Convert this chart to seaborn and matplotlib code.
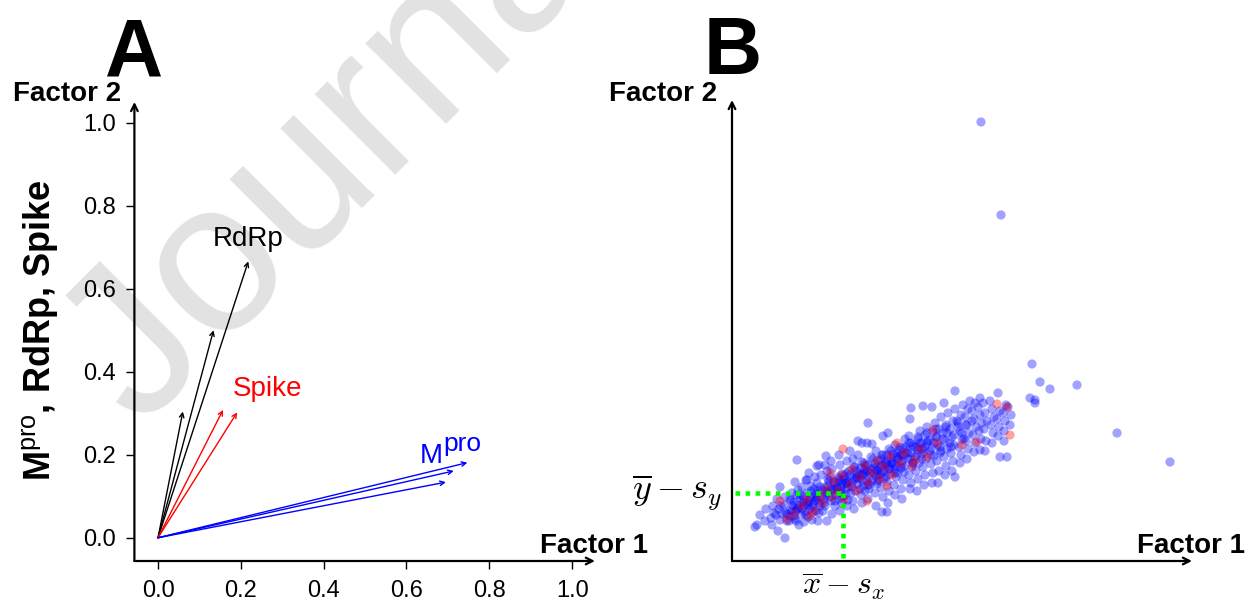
import matplotlib
matplotlib.use("Agg")
import matplotlib.pyplot as plt
import seaborn as sns
import pandas as pd

# --- panel A : loadings on Factor 1 / Factor 2 ---
rdrp_f1 = [0.060, 0.134, 0.218]
rdrp_f2 = [0.304, 0.500, 0.666]
spike_f1 = [0.157, 0.191]
spike_f2 = [0.308, 0.302]
mpro_f1 = [0.747, 0.714, 0.695]
mpro_f2 = [0.181, 0.161, 0.134]
tick_vals = [0.0, 0.2, 0.4, 0.6, 0.8, 1.0]
tick_labels = ["0.0", "0.2", "0.4", "0.6", "0.8", "1.0"]

# --- panel B : factor scores ---
blue_scores = [
    (0.23, 0.34), (0.25, 0.36), (0.28, 0.46), (0.33, 0.40), (0.34, 0.52),
    (0.39, 0.43), (0.40, 0.36), (0.41, 0.55), (0.42, 0.48),
    (0.44, 0.46), (0.45, 0.62), (0.46, 0.30), (0.47, 0.52),
    (0.48, 0.41), (0.48, 0.74), (0.49, 0.55), (0.50, 0.47),
    (0.53, 0.23), (0.52, 0.56), (0.54, 0.48), (0.55, 0.40), (0.53, 0.64),
    (0.58, 0.51), (0.57, 0.40), (0.59, 0.60), (0.58, 0.45), (0.60, 0.68),
    (0.63, 0.79), (0.62, 0.59), (0.64, 0.50), (0.63, 0.42), (0.65, 0.66), (0.61, 0.55),
    (0.66, 0.53), (0.67, 0.36), (0.68, 0.62), (0.66, 0.71), (0.65, 1.01), (0.69, 0.47),
    (0.71, 0.58), (0.70, 0.74), (0.72, 0.39), (0.73, 0.49), (0.71, 0.65), (0.74, 0.81), (0.72, 0.55),
    (0.75, 0.81), (0.76, 0.44), (0.77, 0.60), (0.75, 0.68), (0.78, 0.52), (0.79, 0.75), (0.77, 0.88),
    (0.80, 0.41), (0.81, 0.57), (0.80, 0.64), (0.82, 0.72), (0.81, 0.49), (0.83, 0.84),
    (0.85, 0.95), (0.86, 0.40), (0.87, 0.96), (0.84, 0.62), (0.86, 0.70), (0.88, 0.55),
    (0.85, 0.78), (0.87, 0.48), (0.89, 0.86),
    (0.93, 0.96), (0.95, 0.40), (0.92, 0.58), (0.94, 0.66), (0.93, 0.74), (0.96, 0.82),
    (0.91, 0.50), (0.95, 0.90), (0.94, 1.05),
    (1.00, 0.47), (0.99, 0.60), (1.01, 0.68), (1.02, 0.76), (0.98, 0.84), (1.00, 0.92),
    (1.03, 0.55), (1.01, 0.71), (0.99, 1.00),
    (1.08, 0.50), (1.07, 0.62), (1.09, 0.70), (1.06, 0.79), (1.10, 0.87), (1.08, 0.96),
    (1.07, 1.06), (1.10, 0.58), (1.09, 0.74),
    (1.15, 0.55), (1.14, 0.66), (1.16, 0.74), (1.13, 0.82), (1.17, 0.90), (1.15, 1.00),
    (1.16, 0.61), (1.14, 0.78), (1.18, 1.10),
    (1.22, 0.52), (1.21, 0.60), (1.23, 0.70), (1.20, 0.78), (1.24, 0.86), (1.22, 0.94),
    (1.21, 1.02), (1.26, 1.06), (1.25, 0.82),
    (1.30, 0.58), (1.29, 0.66), (1.31, 0.75), (1.28, 0.83), (1.32, 0.91), (1.30, 0.99),
    (1.26, 1.20), (1.33, 0.70), (1.31, 0.88),
    (1.36, 0.62), (1.37, 0.72), (1.35, 0.80), (1.38, 0.88), (1.36, 0.96), (1.39, 1.04),
    (1.36, 1.38), (1.30, 1.18), (1.35, 1.18), (1.40, 1.17), (1.38, 0.76),
    (1.44, 0.55), (1.43, 0.68), (1.45, 0.77), (1.44, 0.85), (1.42, 0.93), (1.46, 1.01),
    (1.44, 1.10), (1.47, 0.81), (1.45, 0.90), (1.51, 1.25),
    (1.50, 0.49), (1.51, 0.64), (1.49, 0.73), (1.52, 0.82), (1.50, 0.90), (1.53, 0.98),
    (1.51, 1.06), (1.56, 1.28), (1.49, 0.87),
    (1.56, 0.58), (1.57, 0.70), (1.55, 0.79), (1.58, 0.87), (1.56, 0.95), (1.59, 1.03),
    (1.57, 1.12), (1.55, 0.49), (1.58, 0.92),
    (1.63, 0.66), (1.62, 0.76), (1.64, 0.84), (1.63, 0.92), (1.61, 1.00), (1.65, 1.08),
    (1.63, 1.16), (1.66, 0.88), (1.62, 0.97),
    (1.70, 0.62), (1.69, 0.72), (1.71, 0.81), (1.72, 0.89), (1.70, 0.97), (1.68, 1.05),
    (1.71, 1.13), (1.73, 1.22), (1.69, 0.93),
    (1.78, 0.72), (1.79, 0.78), (1.77, 0.86), (1.80, 0.94), (1.78, 1.02), (1.76, 1.10),
    (1.79, 1.18), (1.78, 1.42), (1.81, 0.98), (1.77, 1.25),
    (1.85, 0.70), (1.86, 0.82), (1.84, 0.90), (1.87, 0.98), (1.85, 1.06), (1.83, 1.14),
    (1.86, 1.22), (1.79, 1.53), (1.88, 1.30),
    (1.92, 0.76), (1.93, 0.86), (1.91, 0.94), (1.94, 1.02), (1.92, 1.10), (1.90, 1.18),
    (1.93, 1.26), (1.91, 1.55), (1.95, 1.34),
    (2.00, 0.78), (2.01, 0.88), (1.99, 0.97), (2.02, 1.05), (2.00, 1.13), (1.98, 1.21),
    (2.01, 1.29), (2.00, 1.54), (2.03, 1.38),
    (2.06, 0.78), (2.07, 0.90), (2.05, 1.00), (2.08, 1.08), (2.06, 1.16), (2.04, 1.24),
    (2.07, 1.32), (2.09, 1.44),
    (2.13, 0.86), (2.14, 0.95), (2.12, 1.04), (2.15, 1.12), (2.13, 1.20), (2.11, 1.28),
    (2.14, 1.36), (2.16, 1.48), (2.12, 1.58),
    (2.20, 0.90), (2.21, 1.00), (2.19, 1.08), (2.22, 1.16), (2.20, 1.24), (2.18, 1.32),
    (2.21, 1.40), (2.23, 1.52), (2.23, 0.84), (2.23, 1.70),
    (2.28, 0.98), (2.29, 1.06), (2.27, 1.14), (2.30, 1.22), (2.28, 1.30), (2.26, 1.38),
    (2.29, 1.46), (2.31, 1.56),
    (2.35, 1.02), (2.36, 1.12), (2.34, 1.20), (2.37, 1.28), (2.35, 1.36), (2.33, 1.44),
    (2.36, 1.52), (2.38, 1.60),
    (2.42, 1.09), (2.43, 1.18), (2.41, 1.26), (2.44, 1.34), (2.42, 1.42), (2.40, 1.50),
    (2.43, 1.58),
    (2.48, 1.11), (2.49, 1.22), (2.47, 1.30), (2.50, 1.38), (2.48, 1.46), (2.46, 1.54),
    (2.48, 1.63),
    (2.53, 1.10), (2.54, 1.20), (2.52, 1.32), (2.55, 1.40), (2.53, 1.48), (2.51, 1.58),
    (2.60, 1.18), (2.61, 1.28), (2.59, 1.36), (2.62, 1.44), (2.60, 1.52), (2.58, 1.60),
    (2.66, 1.25), (2.67, 1.34), (2.65, 1.42), (2.68, 1.50), (2.66, 1.68), (2.68, 1.04),
    (2.72, 1.30), (2.73, 1.40), (2.71, 1.48), (2.74, 1.56), (2.72, 1.20),
    (2.75, 1.04), (2.76, 1.54), (2.78, 1.36), (2.79, 1.46),
    (2.98, 1.63), (3.03, 1.61), (3.03, 1.58), (3.00, 1.97), (3.08, 1.79),
    (3.18, 1.72), (3.45, 1.76), (3.85, 1.28), (4.38, 0.99),
    (2.69, 3.46), (2.49, 4.39),
]
# the dense middle of the cloud
blue_core = [
    (0.55, 0.47), (0.60, 0.50), (0.62, 0.45), (0.66, 0.56), (0.70, 0.52), (0.72, 0.60),
    (0.76, 0.56), (0.78, 0.63), (0.80, 0.54), (0.83, 0.60), (0.84, 0.67), (0.87, 0.58),
    (0.89, 0.64), (0.90, 0.71), (0.92, 0.62), (0.95, 0.68), (0.96, 0.75), (0.98, 0.64),
    (1.00, 0.72), (1.02, 0.79), (1.04, 0.66), (1.05, 0.74), (1.07, 0.82), (1.09, 0.68),
    (1.11, 0.77), (1.12, 0.85), (1.14, 0.72), (1.17, 0.80), (1.18, 0.86), (1.20, 0.74),
    (1.22, 0.82), (1.24, 0.90), (1.26, 0.77), (1.27, 0.86), (1.29, 0.93), (1.31, 0.80),
    (1.33, 0.88), (1.34, 0.96), (1.37, 0.84), (1.39, 0.92), (1.40, 0.80), (1.42, 0.88),
    (1.43, 0.97), (1.46, 0.86), (1.48, 0.94), (1.49, 1.02), (1.52, 0.89), (1.54, 0.97),
    (1.55, 1.06), (1.57, 0.92), (1.60, 0.98), (1.61, 1.07), (1.64, 0.95), (1.66, 1.02),
    (1.67, 1.11), (1.70, 1.00), (1.72, 1.06), (1.74, 1.14), (1.76, 1.02), (1.79, 1.08),
    (1.81, 1.16), (1.83, 1.04), (1.86, 1.11), (1.88, 1.18), (1.90, 1.07), (1.93, 1.14),
    (1.96, 1.20), (1.98, 1.10), (2.02, 1.18), (2.05, 1.24), (2.08, 1.14), (2.11, 1.22),
    (2.15, 1.28), (2.18, 1.18), (2.22, 1.26), (2.26, 1.34), (2.30, 1.28), (2.34, 1.36),
    (2.40, 1.40),
    (0.58, 0.62), (0.64, 0.40), (0.68, 0.66), (0.74, 0.46), (0.79, 0.70), (0.84, 0.50),
    (0.88, 0.74), (0.93, 0.55), (0.97, 0.80), (1.03, 0.60), (1.06, 0.84), (1.11, 0.64),
    (1.15, 0.88), (1.19, 0.68), (1.23, 0.94), (1.28, 0.72), (1.32, 0.98), (1.36, 0.76),
    (1.41, 1.02), (1.45, 0.80), (1.50, 1.06), (1.54, 0.84), (1.59, 1.10), (1.63, 0.88),
    (1.68, 1.14), (1.72, 0.94), (1.77, 1.18), (1.81, 0.98), (1.86, 1.24), (1.90, 1.02),
    (1.95, 1.28), (1.99, 1.06), (2.04, 1.32), (2.09, 1.10), (2.14, 1.34), (2.19, 1.14),
    (2.25, 1.40), (2.32, 1.22),
    (0.85, 0.64), (0.95, 0.70), (1.05, 0.72), (1.15, 0.78), (1.25, 0.84), (1.35, 0.90),
    (1.45, 0.94), (1.55, 1.00), (1.65, 1.04), (1.75, 1.08), (1.85, 1.14), (1.95, 1.18),
    (0.75, 0.58), (0.65, 0.52), (1.10, 0.80), (1.30, 0.86), (1.50, 0.96), (1.70, 1.06),
    (1.90, 1.12),
]
red_scores = [
    (0.62, 0.47), (0.70, 0.55), (0.75, 0.62), (0.82, 0.50), (0.88, 0.66),
    (0.90, 0.58), (0.95, 0.72), (1.00, 0.64), (1.02, 0.80), (1.06, 0.70),
    (1.10, 0.86), (1.12, 0.62), (1.18, 0.76), (1.20, 0.92), (1.25, 0.70),
    (1.28, 0.84), (1.33, 0.95), (1.36, 0.78), (1.40, 0.88), (1.45, 1.00),
    (1.48, 0.82), (1.52, 0.94), (1.58, 1.05), (1.60, 0.86), (1.65, 1.18),
    (1.68, 0.98), (1.72, 1.08), (1.80, 0.95), (1.83, 1.01), (1.88, 1.12),
    (1.95, 1.04), (2.01, 1.31), (2.05, 1.18), (0.55, 0.42), (0.48, 0.60),
    (0.78, 0.45), (1.11, 1.12), (2.30, 1.16), (2.45, 1.19), (2.65, 1.57),
    (2.78, 1.26), (2.75, 1.54), (1.35, 0.60), (0.98, 0.88), (1.55, 0.75),
]
cut_f1 = 1.11   # x-bar minus s_x
cut_f2 = 0.68   # y-bar minus s_y

W, H = 1252, 601

sns.set_theme(style="white")
plt.rcParams["font.family"] = ["Liberation Sans", "DejaVu Sans"]
plt.rcParams["mathtext.fontset"] = "custom"
plt.rcParams["mathtext.rm"] = "Liberation Sans"
plt.rcParams["mathtext.bf"] = "Liberation Sans:bold"
plt.rcParams["mathtext.it"] = "Liberation Sans:italic"
for key in ["text.color", "axes.labelcolor", "xtick.color", "ytick.color"]:
    plt.rcParams[key] = "black"


def fx(x):
    return x / W


def fy(y):
    return 1 - y / H


fig = plt.figure(figsize=(W / 100, H / 100), dpi=100)
fig.patch.set_facecolor("white")

# watermark
fig.text(fx(140), fy(430), "Journal Pre-proof", rotation=45, rotation_mode="anchor",
         ha="left", va="baseline", fontsize=155, color="#e2e2e2", zorder=-5)

# ---------------- panel A ----------------
axA = fig.add_axes([fx(134.4), fy(561), (597 - 134.4) / W, (561 - 97.8) / H])
axA.set_facecolor("none")
axA.set_xlim(-0.057, 1.06)
axA.set_ylim(-0.056, 1.06)
for s in axA.spines.values():
    s.set_visible(False)
axA.set_xticks(tick_vals, tick_labels)
axA.set_yticks(tick_vals, tick_labels)
axA.tick_params(axis="both", which="major", length=6, width=1, color="black",
                labelsize=17, direction="out", bottom=True, left=True)
axA.tick_params(axis="x", pad=8)
axA.tick_params(axis="y", pad=7)

arrow_kw = dict(arrowstyle="->", lw=1.6, color="black", mutation_scale=12,
                shrinkA=0, shrinkB=0)
axA.annotate("", xy=(1.055, -0.056), xytext=(-0.057, -0.056),
             arrowprops=arrow_kw, annotation_clip=False)
axA.annotate("", xy=(-0.057, 1.05), xytext=(-0.057, -0.056),
             arrowprops=arrow_kw, annotation_clip=False)

for xs, ys, col in [(rdrp_f1, rdrp_f2, "black"), (spike_f1, spike_f2, "#ff0000"),
                    (mpro_f1, mpro_f2, "#0000ff")]:
    for x, y in zip(xs, ys):
        axA.annotate("", xy=(x, y), xytext=(0, 0),
                     arrowprops=dict(arrowstyle="->", lw=1.0, color=col,
                                     mutation_scale=8, shrinkA=0, shrinkB=0))

axA.text(0.218, 0.702, "RdRp", color="black", fontsize=20, ha="center", va="baseline")
axA.text(0.265, 0.342, "Spike", color="#ff0000", fontsize=20, ha="center", va="baseline")
# M with a large raised "pro"
axA.text(0.688, 0.180, "M", color="#0000ff", fontsize=20, ha="right", va="baseline")
axA.annotate("pro", xy=(0.690, 0.180), xytext=(0, 9), textcoords="offset points",
             color="#0000ff", fontsize=19, ha="left", va="baseline")

fig.text(fx(40), fy(330), r"$\mathbf{M}^{\mathrm{pro}}$, RdRp, Spike", rotation=90,
         ha="center", va="center", fontsize=26, fontweight="bold")
fig.text(fx(13), fy(101), "Factor 2", fontsize=20, fontweight="bold", ha="left", va="baseline")
fig.text(fx(540), fy(553), "Factor 1", fontsize=20, fontweight="bold", ha="left", va="baseline")
fig.text(fx(134), fy(75), "A", fontsize=58, fontweight="bold", ha="center", va="baseline")

# ---------------- panel B ----------------
rows = ([(x, y, "blue") for x, y in blue_scores] + [(x, y, "blue") for x, y in blue_core]
        + [(x, y, "red") for x, y in red_scores])
scores = pd.DataFrame(rows, columns=["Factor 1", "Factor 2", "group"])
axB = fig.add_axes([fx(732), fy(561), (1195 - 732) / W, (561 - 98) / H])
axB.set_facecolor("none")
axB.set_xlim(0, 4.63)
axB.set_ylim(0, 4.63)
sns.scatterplot(data=scores, x="Factor 1", y="Factor 2", hue="group",
                palette={"blue": "#0000ff", "red": "#ff0000"}, alpha=0.37, s=44,
                linewidth=0, legend=False, ax=axB, zorder=2)
axB.set_xlabel("")
axB.set_ylabel("")
axB.set_xticks([])
axB.set_yticks([])
for s in axB.spines.values():
    s.set_visible(False)
axB.annotate("", xy=(4.60, 0), xytext=(0, 0), arrowprops=arrow_kw, annotation_clip=False)
axB.annotate("", xy=(0, 4.61), xytext=(0, 0), arrowprops=arrow_kw, annotation_clip=False)

green = dict(color="#00ff00", lw=3.3, linestyle=(0, (1, 1.2)), dash_capstyle="butt",
             zorder=3, clip_on=False)
axB.plot([0.03, cut_f1], [cut_f2, cut_f2], **green)
axB.plot([cut_f1, cut_f1], [cut_f2, 0.01], **green)

axB.text(-0.10, cut_f2, r"$\overline{y} - s_y$", math_fontfamily="cm", fontsize=26,
         ha="right", va="center")
axB.text(cut_f1, -0.10, r"$\overline{x} - s_x$", math_fontfamily="cm", fontsize=23,
         ha="center", va="top")

fig.text(fx(609), fy(101), "Factor 2", fontsize=20, fontweight="bold", ha="left", va="baseline")
fig.text(fx(1137), fy(553), "Factor 1", fontsize=20, fontweight="bold", ha="left", va="baseline")
fig.text(fx(733), fy(74), "B", fontsize=58, fontweight="bold", ha="center", va="baseline")

fig.savefig("out.png", dpi=100)
